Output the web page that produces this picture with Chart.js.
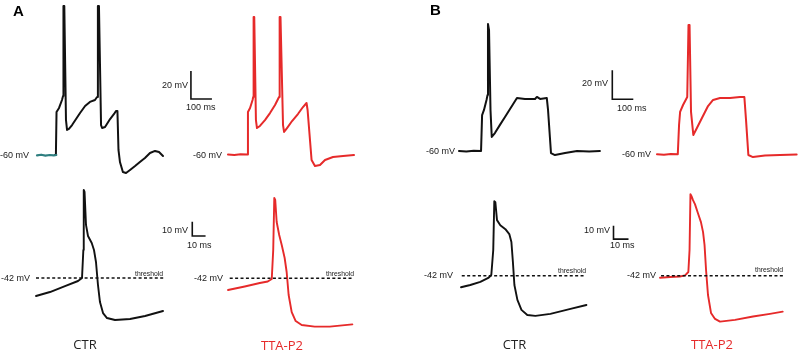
<!DOCTYPE html>
<html>
<head>
<meta charset="utf-8">
<script src="https://cdn.jsdelivr.net/npm/chart.js@4"></script>
<style>
  html, body { margin: 0; padding: 0; background: #fff; }
  #wrap { position: relative; width: 800px; height: 352px; overflow: hidden; background: #fff; }
  #c { position: absolute; left: 0; top: 0; }
  .t { position: absolute; white-space: nowrap; font-family: "Liberation Sans", Arial, sans-serif; color: #1a1a1a; line-height: 1; }
</style>
</head>
<body>
<div id="wrap"><canvas id="c" width="800" height="352"></canvas></div>
<script>
// ---------------- DATA (time in ms, membrane potential in mV) ----------------
// Panel A, top: firing during step (CTR)
const aTopBaseT = [0, 20, 40, 60, 80, 92];
const aTopBaseV = [-60.3, -59.8, -60.4, -60, -60.3, -60];
const aTopCtrT = [85, 90, 93, 105, 119, 124, 126, 130, 138, 143, 152, 167, 186, 205, 229, 252, 276, 286, 290, 295, 305, 310, 324, 348, 367, 376, 383, 388, 395, 409, 424, 443, 467, 490, 514, 538, 562, 581, 600];
const aTopCtrV = [-60, -60, -29.3, -26.4, -20.7, -17.9, 46.4, 46.4, -35, -42.1, -41.4, -38.6, -34.3, -30, -25, -22.1, -20.7, -18.6, 46.4, 46.4, -38.6, -40.7, -40, -34.3, -30.7, -28.6, -28.6, -56.4, -65, -72.1, -72.9, -70.7, -67.9, -65, -62.1, -58.6, -57.1, -57.9, -60.7];
// Panel A, top: TTA-P2
const aTopTtaT = [0, 30, 60, 92, 95, 105, 117, 120, 122, 125, 133, 138, 152, 176, 200, 224, 243, 246, 250, 262, 267, 281, 305, 333, 357, 374, 379, 398, 414, 438, 462, 500, 548, 600];
const aTopTtaV = [-60, -60.3, -59.8, -60, -29.6, -26.8, -21.1, -18.9, 38.2, 38.2, -35.4, -41.1, -39.6, -35.4, -30.4, -24.6, -18.9, 38.2, 38.2, -39, -43.9, -41.1, -36.1, -31.1, -26.1, -23.2, -28.2, -63.9, -68.2, -67.5, -63.9, -61.8, -61.1, -60.4];
// Panel B, top: CTR
const bTopCtrT = [0, 35, 70, 105, 110, 119, 131, 136, 138, 143, 150, 156, 171, 195, 219, 243, 267, 276, 314, 362, 371, 386, 418, 424, 438, 457, 505, 562, 620, 671];
const bTopCtrV = [-60, -60.3, -59.8, -60, -35.2, -31.7, -24.8, -21.4, 27.6, 23.4, -31.7, -50.3, -47.6, -42, -36.5, -31, -25.5, -23.4, -24.1, -24.1, -22.7, -24.1, -23.4, -31.7, -61.4, -62.8, -61.4, -60, -60.3, -60];
// Panel B, top: TTA-P2
const bTopTtaT = [0, 33, 66, 99, 105, 110, 124, 144, 150, 155, 162, 173, 190, 214, 243, 267, 300, 348, 395, 416, 424, 435, 457, 514, 586, 665];
const bTopTtaV = [-60, -60.3, -59.8, -60, -39.8, -30.8, -26, -20.5, 29.2, 29.2, -30.8, -46.7, -41.9, -35, -26.7, -22.5, -21.2, -21.2, -20.5, -20.5, -36.4, -60.5, -61.9, -60.8, -60.5, -60.1];
// Panel A, bottom: single action potential, CTR
const aBotCtrT = [0, 10.5, 21.8, 31.6, 34.6, 35.6, 35.9, 36.5, 37.6, 39.1, 41.9, 43.6, 45.1, 46.6, 48.1, 50.4, 53.4, 59.4, 70.7, 82, 95.5];
const aBotCtrV = [-54.6, -51.8, -47.6, -44.1, -42, -22.4, 19.6, 18.2, -4.9, -12.6, -17.5, -22.4, -30.8, -46.9, -58.8, -66.5, -70, -71.4, -70.7, -68.6, -65.1];
// Panel A, bottom: TTA-P2
const aBotTtaT = [0, 12.6, 23.9, 29.9, 32.9, 34, 34.8, 35.5, 36.6, 38.5, 40.4, 42.6, 44.1, 45.6, 47.9, 50.9, 55.4, 65.2, 76.5, 93.5];
const aBotTtaV = [-50.2, -47.7, -45.3, -44.2, -42.5, -22.2, 14.2, 12.8, -2.6, -11.7, -18.7, -27.8, -37.6, -53.7, -65.6, -71.9, -74.7, -75.8, -75.8, -74.2];
// Panel B, bottom: CTR
const bBotCtrT = [0, 6.2, 12.9, 18.2, 20.2, 21.5, 22.2, 22.9, 24, 26.2, 29.6, 32.2, 33.6, 34.6, 35.6, 37.6, 40.3, 44.2, 49.6, 59.6, 73, 83.6];
const bBotCtrV = [-50.7, -49, -46.7, -43.7, -41.5, -22.7, 14, 13.3, -0.2, -4, -7, -10.7, -16.7, -31.7, -49, -60.2, -67.7, -71.5, -72.2, -70.7, -67, -64];
// Panel B, bottom: TTA-P2
const bBotTtaT = [0, 6.7, 13.3, 16.7, 18.9, 19.7, 20.3, 21, 22, 23.3, 25.3, 27.3, 28.7, 29.7, 30.7, 32, 34, 36.7, 40, 50, 62, 73.3, 81.8];
const bBotTtaV = [-43.5, -43, -42.6, -41.8, -39.2, -22.7, 19.3, 17.8, 14.8, 11.8, 5, -1.7, -9.2, -19, -37.7, -56.5, -70, -74.5, -76.5, -75.2, -72.7, -70.7, -69];

// Threshold (mV) and its time span per trace (ms)
const thresholdMv = -42;
const thrSpans = { aBotCtr: [0, 97], aBotTta: [1.3, 94.5], bBotCtr: [0.5, 83.3], bBotTta: [0.7, 82.2] };
// Scale-bar sizes
const topBarMv = 20, topBarMs = 100, botBarMv = 10, botBarMs = 10;

// ---------------- LAYOUT (pixel geometry of each trace frame) ----------------
// x0: pixel of t=0, kx: px per ms, yRef: pixel of vRef, ky: px per mV
const frames = {
  aTopCtr: { x0: 37,  kx: 0.21, yRef: 155,   vRef: -60, ky: 1.40 },
  aTopTta: { x0: 228, kx: 0.21, yRef: 154.5, vRef: -60, ky: 1.40 },
  bTopCtr: { x0: 459, kx: 0.21, yRef: 151,   vRef: -60, ky: 1.45 },
  bTopTta: { x0: 657, kx: 0.21, yRef: 154.3, vRef: -60, ky: 1.45 },
  aBotCtr: { x0: 36,  kx: 1.33, yRef: 278,   vRef: -42, ky: 1.43 },
  aBotTta: { x0: 228, kx: 1.33, yRef: 278.3, vRef: -42, ky: 1.43 },
  bBotCtr: { x0: 461, kx: 1.50, yRef: 275.7, vRef: -42, ky: 1.33 },
  bBotTta: { x0: 660, kx: 1.50, yRef: 275.7, vRef: -42, ky: 1.33 }
};
// scale bar anchors (corner) in frame units
const bars = [
  { frame: 'aTopCtr', t: 733,   v: -20,   mv: topBarMv, ms: topBarMs },
  { frame: 'bTopCtr', t: 730,   v: -24.3, mv: topBarMv, ms: topBarMs },
  { frame: 'aBotCtr', t: 117.5, v: -12.6, mv: botBarMv, ms: botBarMs },
  { frame: 'bBotTta', t: -31,   v: -14.5, mv: botBarMv, ms: botBarMs }
];

const W = 800, H = 352;
const BLACK = '#111111', RED = '#e62a2a', TEAL = '#2f7f80';

const scales = {};
for (const [k, f] of Object.entries(frames)) {
  scales['x_' + k] = { type: 'linear', display: false, bounds: 'data',
    min: -f.x0 / f.kx, max: (W - f.x0) / f.kx };
  scales['y_' + k] = { type: 'linear', display: false, bounds: 'data',
    min: f.vRef + (f.yRef - H) / f.ky, max: f.vRef + f.yRef / f.ky };
}

const pts = (T, V) => T.map((t, i) => ({ x: t, y: V[i] }));
const datasets = [];
function trace(frame, T, V, color, width) {
  datasets.push({ data: pts(T, V), xAxisID: 'x_' + frame, yAxisID: 'y_' + frame,
    borderColor: color, borderWidth: width, pointRadius: 0, tension: 0,
    borderJoinStyle: 'round', borderCapStyle: 'round', fill: false, clip: false });
}
trace('aTopCtr', aTopBaseT, aTopBaseV, TEAL, 2.2);
trace('aTopCtr', aTopCtrT, aTopCtrV, BLACK, 2);
trace('aTopTta', aTopTtaT, aTopTtaV, RED, 2);
trace('bTopCtr', bTopCtrT, bTopCtrV, BLACK, 2);
trace('bTopTta', bTopTtaT, bTopTtaV, RED, 2);

for (const [k, span] of Object.entries(thrSpans)) {
  datasets.push({ data: [{ x: span[0], y: thresholdMv }, { x: span[1], y: thresholdMv }],
    xAxisID: 'x_' + k, yAxisID: 'y_' + k, borderColor: '#111', borderWidth: 1.5,
    borderDash: [3, 2.4], pointRadius: 0, fill: false, clip: false });
}
trace('aBotCtr', aBotCtrT, aBotCtrV, BLACK, 1.9);
trace('aBotTta', aBotTtaT, aBotTtaV, RED, 1.9);
trace('bBotCtr', bBotCtrT, bBotCtrV, BLACK, 1.9);
trace('bBotTta', bBotTtaT, bBotTtaV, RED, 1.9);

for (const b of bars) {
  datasets.push({ data: [{ x: b.t, y: b.v + b.mv }, { x: b.t, y: b.v }, { x: b.t + b.ms, y: b.v }],
    xAxisID: 'x_' + b.frame, yAxisID: 'y_' + b.frame, borderColor: '#111', borderWidth: 1.6,
    borderJoinStyle: 'miter', pointRadius: 0, tension: 0, fill: false, clip: false });
}

new Chart(document.getElementById('c'), {
  type: 'line',
  data: { datasets },
  options: {
    responsive: false, animation: false, events: [],
    layout: { padding: 0 },
    plugins: { legend: { display: false }, tooltip: { enabled: false }, title: { display: false } },
    scales
  }
});

// ---------------- TEXT ----------------
const wrap = document.getElementById('wrap');
function label(text, x, y, o) {
  o = o || {};
  const d = document.createElement('div');
  d.className = 't';
  d.textContent = text;
  d.style.fontSize = (o.size || 9) + 'px';
  if (o.bold) d.style.fontWeight = 'bold';
  if (o.color) d.style.color = o.color;
  if (o.font) d.style.fontFamily = o.font;
  d.style.top = y + 'px';
  let tx = '0';
  if (o.align === 'right') { d.style.left = x + 'px'; tx = '-100%'; }
  else if (o.align === 'center') { d.style.left = x + 'px'; tx = '-50%'; }
  else d.style.left = x + 'px';
  d.style.transform = 'translate(' + tx + ',-50%)';
  wrap.appendChild(d);
}
label('A', 13, 10, { size: 15, bold: true, color: '#000' });
label('B', 430, 9, { size: 15, bold: true, color: '#000' });
label('-60 mV', 29, 155, { align: 'right' });
label('-60 mV', 222, 154.5, { align: 'right' });
label('-60 mV', 455, 151, { align: 'right' });
label('-60 mV', 651, 154, { align: 'right' });
label('20 mV', 188, 85, { align: 'right' });
label('100 ms', 186, 107);
label('20 mV', 608, 83, { align: 'right' });
label('100 ms', 617, 108);
label('10 mV', 188, 230, { align: 'right' });
label('10 ms', 187, 245);
label('10 mV', 610, 230, { align: 'right' });
label('10 ms', 610, 245);
label('-42 mV', 30, 278, { align: 'right' });
label('-42 mV', 223, 278, { align: 'right' });
label('-42 mV', 453, 275, { align: 'right' });
label('-42 mV', 656, 275, { align: 'right' });
label('threshold', 163, 273.5, { align: 'right', size: 6.8 });
label('threshold', 354, 273.5, { align: 'right', size: 6.8 });
label('threshold', 586, 270.5, { align: 'right', size: 6.8 });
label('threshold', 783, 270, { align: 'right', size: 6.8 });
const titleFont = '"Open Sans", "Liberation Sans", sans-serif';
label('CTR', 85, 344, { align: 'center', size: 13, font: titleFont, color: '#222' });
label('TTA-P2', 282, 344.5, { align: 'center', size: 13, font: titleFont, color: RED });
label('CTR', 514.5, 344, { align: 'center', size: 13, font: titleFont, color: '#222' });
label('TTA-P2', 712, 343.5, { align: 'center', size: 13, font: titleFont, color: RED });
</script>
</body>
</html>
